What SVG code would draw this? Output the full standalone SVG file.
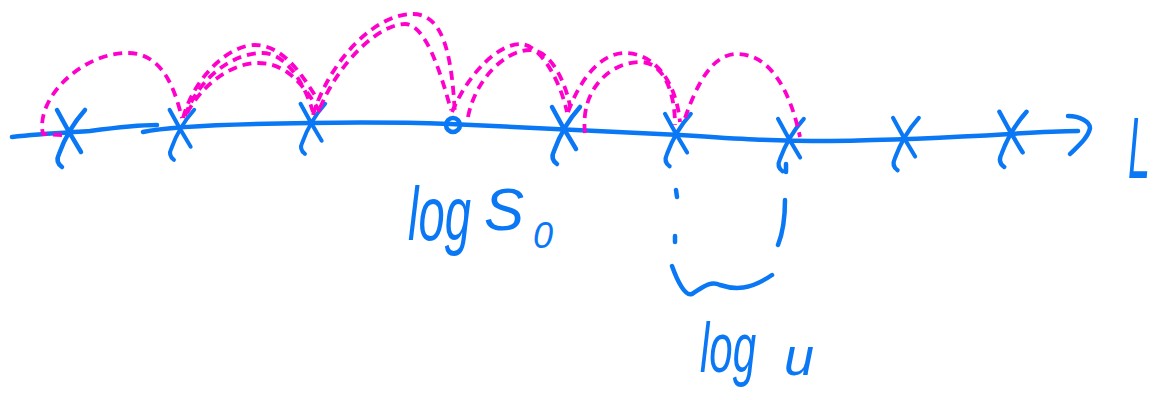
<svg xmlns="http://www.w3.org/2000/svg" width="1157" height="400" viewBox="0 0 1157 400">
<style>
.ink{fill:none;stroke:#0a78f5;stroke-width:4.5;stroke-linecap:round;stroke-linejoin:round}
.jump{fill:none;stroke:#ff00cc;stroke-width:3.8;stroke-dasharray:9 6;stroke-linecap:butt}
.hand{font-family:"Liberation Sans",Arial,sans-serif;font-style:italic;fill:#0a78f5}
</style>
<defs>
<path id="xm" d="M-13,-23 Q-2,-2 11,19 M15,-23 Q-2,-4 -11,21 Q-15,29 -8,34"/>
</defs>
<rect width="1157" height="400" fill="#fff"/>
<g id="axis">
<path class="ink" d="M12,137 C40,134 60,133 90,131 C120,127 140,125 157,125 M143,132 C170,126 230,124 310,123 C380,122 420,123 450,124 C520,127 600,131 680,135 C740,139 770,141 830,141 C900,140 960,137 1010,134 C1040,132 1060,131 1078,131"/>
<path class="ink" d="M1068,116 C1080,116 1090,122 1090,128 C1088,138 1078,146 1070,154"/>
</g>
<g id="ticks" class="ink">
<use href="#xm" transform="translate(70,133)"/>
<use href="#xm" transform="translate(181,130) scale(0.88)"/>
<use href="#xm" transform="translate(312,124) scale(0.88)"/>
<use href="#xm" transform="translate(565,130)"/>
<use href="#xm" transform="translate(677,135) scale(0.92)"/>
<use href="#xm" transform="translate(790,140) scale(0.92)"/>
<use href="#xm" transform="translate(905,139) scale(0.92)"/>
<use href="#xm" transform="translate(1012,134) scale(0.97)"/>
</g>
<g id="origin">
<circle class="ink" cx="453" cy="125" r="7" stroke-width="5"/>
</g>
<g id="connectors">
<path class="jump" d="M62,135 L43,134 C35,100 80,53 128,53 C165,53 176,95 182,118"/>
<path class="jump" d="M183,118 C195,75 230,45 255,45 C285,45 305,80 318,100"/>
<path class="jump" d="M185,116 C200,75 235,53 262,53 C287,53 305,85 313,112"/>
<path class="jump" d="M187,113 C205,80 235,63 258,63 C285,63 302,82 320,112"/>
<path class="jump" d="M313,115 C330,60 375,14 413,14 C445,14 452,60 455,115"/>
<path class="jump" d="M320,108 C340,60 380,24 405,24 C425,24 440,70 451,110"/>
<path class="jump" d="M452,112 C470,70 500,44 520,44 C540,44 560,80 567,112"/>
<path class="jump" d="M468,117 C475,80 505,50 530,50 C552,50 566,85 570,106"/>
<path class="jump" d="M568,112 C580,80 600,53 625,53 C650,53 675,75 680,122"/>
<path class="jump" d="M585,133 C580,90 610,62 640,62 C665,62 675,95 675,125"/>
<path class="jump" d="M685,118 C695,90 710,54 737,54 C770,54 790,90 800,137"/>
</g>
<g id="span-marks">
<path class="ink" d="M676,190 L677,197 M675,236 L675,242 M785,200 C785,220 782,235 778,245"/>
<path class="ink" d="M672,266 C677,280 685,297 692,294 C702,288 710,280 720,285 C735,290 750,290 772,275"/>
<path class="ink" d="M786,164 L786,172"/>
</g>
<g id="label-logS0">
<text class="hand" font-size="76" transform="translate(408,240) scale(0.62,1)">log</text>
<text class="hand" x="484" y="230" font-size="60">S</text>
<text class="hand" x="533" y="248" font-size="36">0</text>
</g>
<g id="label-logu">
<text class="hand" font-size="70" transform="translate(700,372) scale(0.6,1)">log</text>
<text class="hand" x="784" y="375" font-size="54">u</text>
</g>
<g id="label-L">
<text class="hand" font-size="88" font-style="normal" transform="translate(1128,178) scale(0.45,1)">L</text>
</g>
</svg>
